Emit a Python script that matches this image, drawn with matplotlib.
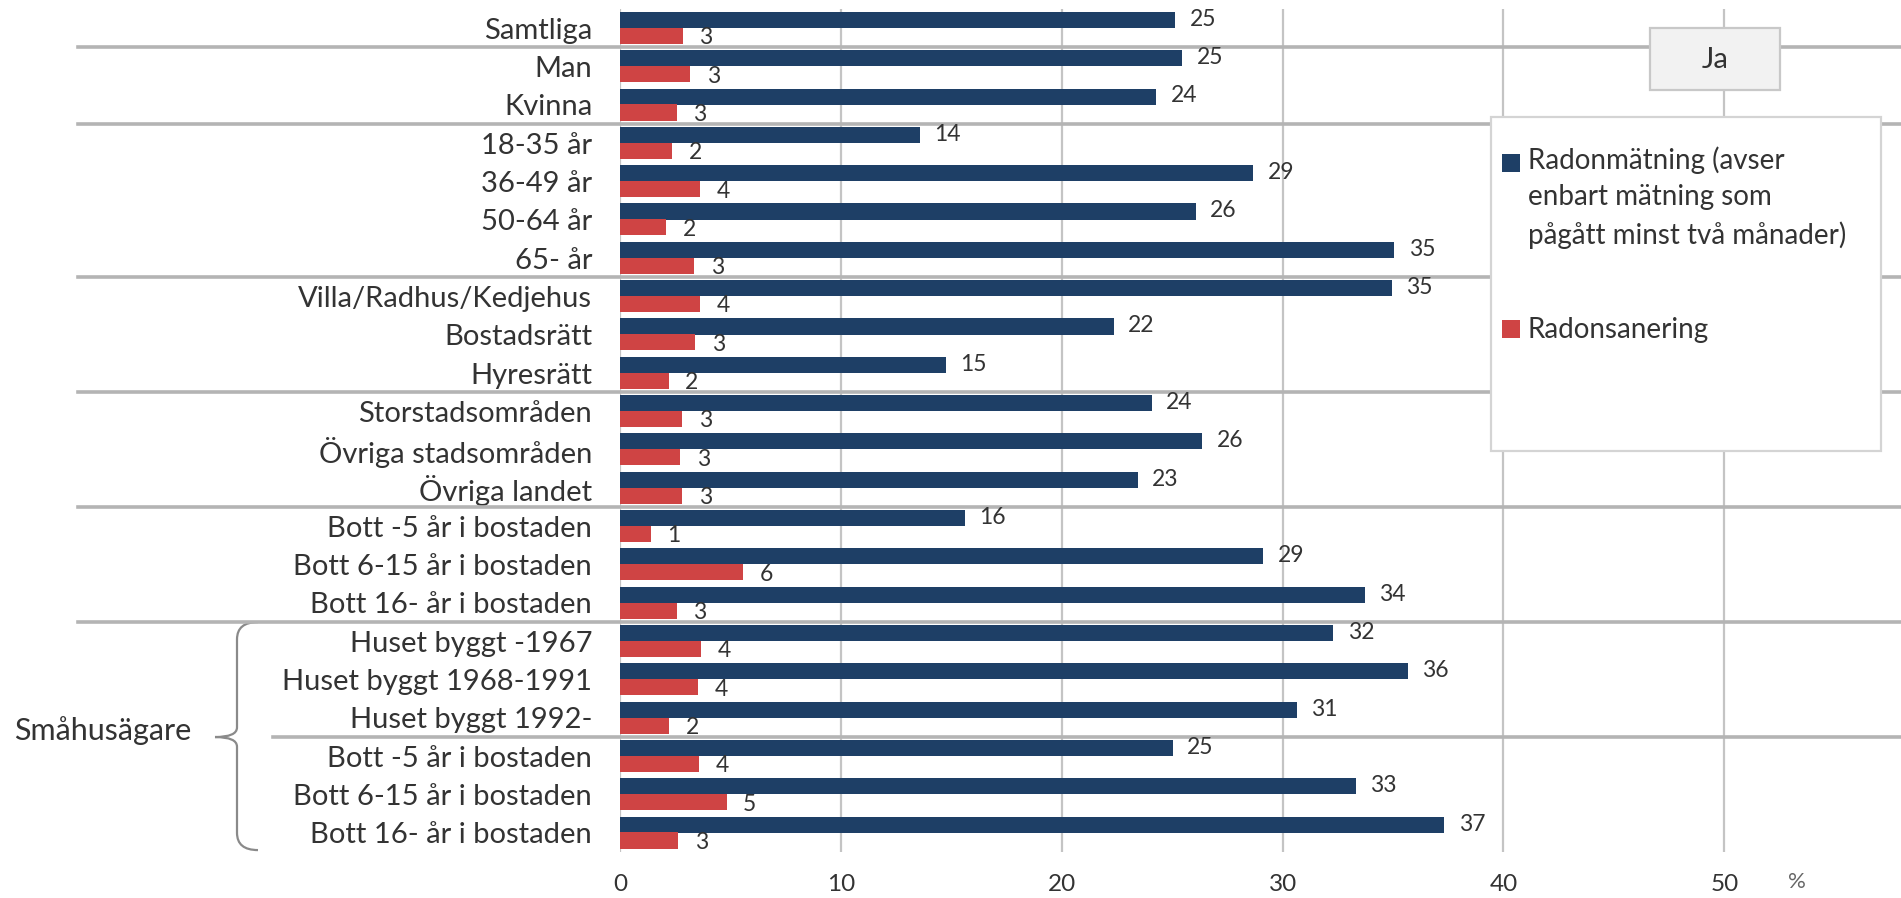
import matplotlib
matplotlib.use("Agg")
import matplotlib.pyplot as plt
from matplotlib.patches import Rectangle, PathPatch
from matplotlib.path import Path
from matplotlib.lines import Line2D
from matplotlib.transforms import blended_transform_factory

plt.rcParams['font.family'] = ['Lato', 'DejaVu Sans']

# categories, top to bottom
categories = [
    "Samtliga", "Man", "Kvinna",
    "18-35 år", "36-49 år", "50-64 år", "65- år",
    "Villa/Radhus/Kedjehus", "Bostadsrätt", "Hyresrätt",
    "Storstadsområden", "Övriga stadsområden", "Övriga landet",
    "Bott -5 år i bostaden", "Bott 6-15 år i bostaden", "Bott 16- år i bostaden",
    "Huset byggt -1967", "Huset byggt 1968-1991", "Huset byggt 1992-",
    "Bott -5 år i bostaden", "Bott 6-15 år i bostaden", "Bott 16- år i bostaden",
]
matning = [25.15, 25.45, 24.28, 13.57, 28.67, 26.07, 35.06, 34.94, 22.36, 14.75,
           24.08, 26.36, 23.45, 15.62, 29.12, 33.73, 32.29, 35.67, 30.63, 25.03,
           33.33, 37.33]
sanering = [2.84, 3.17, 2.57, 2.36, 3.64, 2.08, 3.35, 3.62, 3.41, 2.2,
            2.81, 2.73, 2.82, 1.40, 5.59, 2.57, 3.67, 3.52, 2.23, 3.59,
            4.83, 2.64]
# group separators are drawn after these rows
group_ends = [0, 2, 6, 9, 12, 15]
sub_group_end = 18
xticks = [0, 10, 20, 30, 40, 50]
legend_labels = ["Radonmätning (avser\nenbart mätning som\npågått minst två månader)",
                 "Radonsanering"]

BLUE = "#1e3f66"
RED = "#cf4444"
TXT = "#333333"
GRID = "#c4c4c4"
SEP = "#b4b4b4"

W, H = 1901, 898
fig = plt.figure(figsize=(W / 100, H / 100), dpi=100)


def fx(x):
    return x / W


def fy(y):
    return 1 - y / H


ax = fig.add_axes([fx(620), fy(852), 1 - fx(620), (852 - 9) / H])

ys = list(range(len(categories)))
bh = 0.42
ax.barh([y - 0.215 for y in ys], matning, height=bh, color=BLUE, zorder=3)
ax.barh([y + 0.2 for y in ys], sanering, height=bh, color=RED, zorder=3)

for y, v in zip(ys, matning):
    ax.text(v + 0.65, y - 0.23, f"{v:.0f}", va="center", ha="left",
            fontsize=16.5, color=TXT, zorder=4)
for y, v in zip(ys, sanering):
    ax.text(v + 0.75, y + 0.25, f"{v:.0f}", va="center", ha="left",
            fontsize=16.5, color=TXT, zorder=4)

ax.set_xlim(0, 58)
ax.set_ylim(len(categories) - 0.5, -0.5)
ax.set_yticks(ys)
ax.set_yticklabels(categories, fontsize=21, color=TXT)
ax.set_xticks(xticks)
ax.set_xticklabels([str(t) for t in xticks], fontsize=17.5, color=TXT)
ax.tick_params(axis="y", length=0, pad=20)
ax.tick_params(axis="x", length=0, pad=16)
for s in ax.spines.values():
    s.set_visible(False)
ax.grid(axis="x", color=GRID, linewidth=1.6, zorder=0)
ax.set_axisbelow(True)

ax.text(53.3, fy(882), "%", transform=blended_transform_factory(ax.transData, fig.transFigure),
        fontsize=16, color="#666666", ha="center", va="center")

# group separator lines, from the left margin to the right edge
bt = blended_transform_factory(fig.transFigure, ax.transData)
for r in group_ends:
    ax.add_line(Line2D([fx(78), 1], [r + 0.5, r + 0.5], transform=bt, color=SEP,
                       linewidth=2.6, clip_on=False, zorder=2))
ax.add_line(Line2D([fx(273), 1], [sub_group_end + 0.5, sub_group_end + 0.5], transform=bt,
                   color=SEP, linewidth=2.6, clip_on=False, zorder=2))

# Småhusägare brace
top, mid, bot = 15.5, 18.5, 21.45
xe, xv, xt = fx(258), fx(237), fx(215)
verts = [(xe, top), (xv, top), (xv, top + 0.45),
         (xv, mid - 0.25), (xv, mid), (xt, mid),
         (xv, mid), (xv, mid + 0.25),
         (xv, bot - 0.45), (xv, bot), (xe, bot)]
codes = [Path.MOVETO, Path.CURVE3, Path.CURVE3,
         Path.LINETO, Path.CURVE3, Path.CURVE3,
         Path.CURVE3, Path.CURVE3,
         Path.LINETO, Path.CURVE3, Path.CURVE3]
ax.add_patch(PathPatch(Path(verts, codes), transform=bt, fill=False, edgecolor="#8a8a8a",
                       linewidth=1.6, clip_on=False))
fig.text(fx(14), fy(731), "Småhusägare", fontsize=22, color=TXT, ha="left", va="center")

# "Ja" box
fig.patches.append(Rectangle((fx(1650), fy(90)), fx(130), 62 / H, transform=fig.transFigure,
                             facecolor="#f2f2f2", edgecolor="#c8c8c8", linewidth=1.6, zorder=5))
fig.text(fx(1715), fy(60), "Ja", fontsize=21, color=TXT, ha="center", va="center", zorder=6)

# legend box
fig.patches.append(Rectangle((fx(1491), fy(451)), fx(390), 334 / H, transform=fig.transFigure,
                             facecolor="white", edgecolor="#d4d4d4", linewidth=1.6, zorder=5))
fig.patches.append(Rectangle((fx(1502), fy(172)), fx(18), 18 / H, transform=fig.transFigure,
                             facecolor=BLUE, edgecolor="none", zorder=6))
fig.patches.append(Rectangle((fx(1502), fy(338)), fx(18), 18 / H, transform=fig.transFigure,
                             facecolor=RED, edgecolor="none", zorder=6))
fig.text(fx(1528), fy(146), legend_labels[0], fontsize=20, color=TXT, ha="left", va="top",
         linespacing=1.5, zorder=6)
fig.text(fx(1528), fy(330), legend_labels[1], fontsize=20, color=TXT, ha="left", va="center",
         zorder=6)

fig.savefig("out.png", dpi=100)
